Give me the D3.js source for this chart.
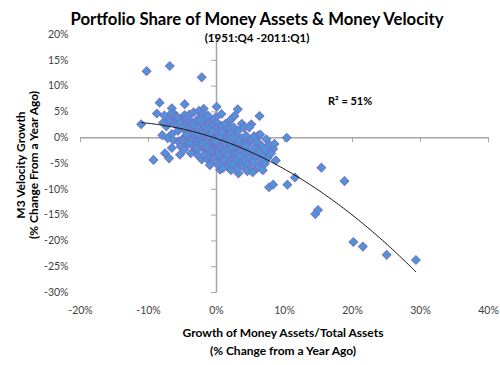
<!DOCTYPE html>
<html>
<head>
<meta charset="utf-8">
<script src="https://cdn.jsdelivr.net/npm/d3@7"></script>
<style>
body { margin: 0; background: #fff; }
text { font-family: Lato, "Open Sans", sans-serif; }
</style>
</head>
<body>
<div id="chart"></div>
<script>
// text + ticks
var chartTitle = "Portfolio Share of Money Assets & Money Velocity";
var chartSubtitle = "(1951:Q4 -2011:Q1)";
var xTitle = ["Growth of Money Assets/Total Assets", "(% Change from a Year Ago)"];
var yTitle = ["M3 Velocity Growth", "(% Change From a Year Ago)"];
var fitLabel = "R² = 51%";
var xTicks = [-20, -10, 0, 10, 20, 30, 40];
var yTicks = [20, 15, 10, 5, 0, -5, -10, -15, -20, -25, -30];

// [growth of money assets share, M3 velocity growth] in %
var tailPts = [
    [-10.2, 12.8], [-6.8, 13.8], [-2.1, 11.6], [-8.3, 6.7], [-11.0, 2.5],
    [-8.7, 4.6], [-6.5, 5.6], [-4.6, 6.4], [-1.8, 5.5], [0.1, 5.9],
    [3.2, 5.4], [6.4, 4.1], [5.2, 2.5], [0.8, 4.5], [0.0, 3.9],
    [-9.2, -4.4], [-7.5, -3.1], [-6.9, -4.1], [-5.3, -3.4], [-6.5, -2.1],
    [7.4, -0.4], [8.4, -2.3], [10.4, -0.1], [15.5, -5.9], [18.9, -8.5],
    [7.8, -9.7], [8.4, -9.2], [10.5, -9.2], [11.6, -7.8], [14.6, -14.9],
    [15.0, -14.1], [20.2, -20.3], [21.6, -21.2], [25.1, -22.8], [29.4, -23.8],
    [6.2, 0.3], [7.0, -4.4], [6.0, -6.0], [5.0, -6.3], [3.3, -7.0], [0.6, -6.3]
];

var clusterPts = [
    [-7.8, 2.8], [-7.6, 4.2], [-7.3, 2.1], [-7.1, -0.2], [-6.9, 3.4], [-6.7, 3.0],
    [-6.5, 0.6], [-6.3, -0.6], [-6.2, 4.6], [-6.1, 2.6], [-7.9, 0.4], [-6.6, 4.6],
    [-5.9, 4.0], [-5.8, 3.7], [-5.7, 2.3], [-5.6, 1.2], [-5.5, -0.8], [-5.4, -1.0],
    [-5.2, -1.8], [-5.1, 3.3], [-5.0, 3.0], [-4.9, 1.9], [-4.8, -0.2], [-4.7, -2.4],
    [-4.6, 4.3], [-4.5, 1.3], [-4.4, -0.4], [-4.3, 3.5], [-4.2, 2.6], [-4.1, -1.3],
    [-5.3, 2.8], [-4.9, -0.6],
    [-3.9, 4.4], [-3.8, 3.3], [-3.8, 1.0], [-3.7, 2.6], [-3.6, -0.4], [-3.5, 1.8],
    [-3.4, -1.6], [-3.3, 4.8], [-3.2, 0.4], [-3.1, -2.7], [-3.0, 3.0], [-2.9, 1.4],
    [-2.8, -0.9], [-2.7, 2.2], [-2.6, -3.6], [-2.5, 0.0], [-2.4, 3.8], [-2.3, -1.9],
    [-2.2, 1.1], [-2.1, -4.3], [-2.0, 2.7], [-3.7, -3.1], [-2.9, -2.2], [-3.3, 0.8],
    [-2.5, 5.1], [-2.2, -0.6], [-3.9, -1.1],
    [-1.9, 4.6], [-1.9, 0.6], [-1.8, 3.1], [-1.7, -1.3], [-1.6, 2.0], [-1.5, -2.6],
    [-1.4, 1.2], [-1.4, -4.1], [-1.3, 3.7], [-1.2, -0.3], [-1.1, -3.3], [-1.0, 2.5],
    [-0.9, -1.8], [-0.8, 0.9], [-0.7, -4.9], [-0.6, 1.7], [-0.5, -0.9], [-0.4, -2.9],
    [-0.3, 3.3], [-0.2, 0.2], [-0.1, -3.8], [-1.6, -0.5], [-0.9, -5.4], [-0.4, 2.4],
    [-1.2, 4.2], [-0.6, -1.6], [-1.8, -3.4], [-0.2, -2.2], [-1.0, 0.3],
    [0.1, 2.9], [0.2, -0.4], [0.3, 1.8], [0.4, -2.6], [0.5, 0.7], [0.6, -4.1],
    [0.7, -1.2], [0.8, 2.2], [0.9, -3.2], [1.0, -0.1], [1.1, -5.0], [1.2, 1.3],
    [1.3, -1.9], [1.4, -3.8], [1.5, 0.4], [1.6, -2.5], [1.7, -5.7], [1.8, -0.8],
    [1.9, 1.9], [0.3, -5.4], [0.5, -1.7], [1.1, -2.9], [1.6, -0.3], [0.8, -4.6],
    [1.9, -4.3], [0.2, 0.9], [1.4, 2.6], [1.0, -6.0],
    [2.1, 3.3], [2.2, -1.4], [2.3, 0.8], [2.4, -3.1], [2.5, -5.2], [2.6, 1.9],
    [2.7, -0.6], [2.8, -4.1], [2.9, -2.2], [3.0, 0.2], [3.1, -6.2], [3.2, -3.4],
    [3.3, 1.3], [3.4, -1.3], [3.5, -4.8], [3.6, -2.6], [3.7, -0.2], [3.8, 2.6],
    [3.9, -5.6], [2.4, -2.0], [3.0, -4.4], [2.2, -6.4], [3.6, -3.6], [2.7, 4.1],
    [4.1, 1.9], [4.2, -2.1], [4.3, -4.5], [4.4, 0.3], [4.5, -3.2], [4.6, -5.4],
    [4.8, -1.1], [4.9, 1.9], [5.0, -3.9], [5.2, -0.5], [5.3, -2.6], [5.5, -4.9],
    [5.6, 0.2], [5.8, -1.8], [5.9, -3.6], [4.6, -6.6], [5.4, -6.8], [4.0, -1.0],
    [6.1, -0.9], [6.3, -2.9], [6.5, 0.5], [6.6, -4.3], [6.8, -1.8], [7.0, -3.4],
    [7.2, -5.1], [7.3, -2.4], [7.6, -4.0], [6.2, -5.7], [7.8, -1.4], [6.9, -6.4],
    [8.1, -3.1], [8.6, -1.3], [8.8, -4.5],
    [-2.7, 0.5], [-1.5, -1.1], [-0.3, -0.5], [0.6, 0.1], [1.3, -1.2], [-2.0, -1.2],
    [-1.1, 1.6], [0.0, -1.3], [-0.8, -2.4], [0.4, -3.4], [2.0, -1.0], [-3.4, 2.3],
    [-4.3, 0.5], [1.7, -3.3], [2.5, -0.1], [-0.5, 1.1], [-1.3, -2.0], [0.9, 1.0],
    [-2.3, 3.3], [1.2, -4.4], [-5.7, 3.9], [4.4, -1.7], [3.3, -0.7], [-0.1, -0.9]
];

var allPts = tailPts.concat(clusterPts);

// 2nd order polynomial least squares, like the excel trendline
function polyFit2(pts) {
    var s = [0, 0, 0, 0, 0], t = [0, 0, 0];
    pts.forEach(function(p) {
        var xp = 1;
        for (var k = 0; k < 5; k++) {
            s[k] += xp;
            if (k < 3) t[k] += xp * p[1];
            xp *= p[0];
        }
    });
    var m = [[s[0], s[1], s[2], t[0]], [s[1], s[2], s[3], t[1]], [s[2], s[3], s[4], t[2]]];
    for (var i = 0; i < 3; i++) {
        for (var r = i + 1; r < 3; r++) {
            var f = m[r][i] / m[i][i];
            for (var c = i; c < 4; c++) m[r][c] -= f * m[i][c];
        }
    }
    var coef = [0, 0, 0];
    for (var i = 2; i >= 0; i--) {
        var v = m[i][3];
        for (var c = i + 1; c < 3; c++) v -= m[i][c] * coef[c];
        coef[i] = v / m[i][i];
    }
    return coef;
}

var width = 500, height = 365;
var svg = d3.select("#chart").append("svg")
    .attr("width", width)
    .attr("height", height);

var x = d3.scaleLinear().domain([-20, 40]).range([80, 488]);
var y = d3.scaleLinear().domain([-30, 20]).range([292, 34]);
var pct = function(d) { return d + "%"; };

// axis lines through the origin, labels pushed to the low side
svg.append("g")
    .attr("class", "axis-line")
    .attr("transform", "translate(" + x(0) + ",0)")
    .call(d3.axisLeft(y).tickValues(yTicks).tickSize(5).tickSizeOuter(0).tickFormat(""));

svg.append("g")
    .attr("class", "axis-line")
    .attr("transform", "translate(0," + y(0) + ")")
    .call(d3.axisBottom(x).tickValues(xTicks).tickSize(5).tickSizeOuter(0).tickFormat(""));

svg.selectAll(".axis-line path, .axis-line line")
    .attr("stroke", "#a6a6a6")
    .attr("stroke-width", 1);
svg.selectAll(".axis-line path").attr("stroke-width", 1.5);

var yLab = svg.append("g")
    .attr("transform", "translate(68.5,0)")
    .call(d3.axisLeft(y).tickValues(yTicks).tickSize(0).tickPadding(0).tickFormat(pct));
var xLab = svg.append("g")
    .attr("transform", "translate(0,307)")
    .call(d3.axisBottom(x).tickValues(xTicks).tickSize(0).tickPadding(0).tickFormat(pct));
[yLab, xLab].forEach(function(g) {
    g.select(".domain").remove();
    g.selectAll("text")
        .attr("fill", "#404040")
        .style("font-family", "Lato, sans-serif")
        .style("font-size", "10.5px");
});

// markers
var diamond = d3.symbol().type(d3.symbolSquare).size(38);
svg.append("g").selectAll("path")
    .data(allPts)
    .enter().append("path")
    .attr("d", diamond)
    .attr("transform", function(d) {
        return "translate(" + x(d[0]) + "," + y(d[1]) + ") rotate(45)";
    })
    .attr("fill", "#4f95d6")
    .attr("stroke", "#7373cc")
    .attr("stroke-width", 1);

// trendline over the data range
var coef = polyFit2(allPts);
var xr = d3.extent(allPts, function(d) { return d[0]; });
var curveX = d3.range(xr[0], xr[1], 0.25).concat([xr[1]]);
var line = d3.line()
    .x(function(d) { return x(d); })
    .y(function(d) { return y(coef[0] + coef[1] * d + coef[2] * d * d); });
svg.append("path")
    .datum(curveX)
    .attr("d", line)
    .attr("fill", "none")
    .attr("stroke", "#111")
    .attr("stroke-width", 1);

svg.append("text")
    .attr("x", 328).attr("y", 105)
    .style("font-size", "11px")
    .style("font-weight", "bold")
    .text(fitLabel);

// titles
svg.append("text")
    .attr("x", 257).attr("y", 25)
    .attr("text-anchor", "middle")
    .style("font-size", "16.7px")
    .style("font-weight", "bold")
    .text(chartTitle);
svg.append("text")
    .attr("x", 257).attr("y", 42)
    .attr("text-anchor", "middle")
    .style("font-size", "11.5px")
    .style("font-weight", "bold")
    .text(chartSubtitle);

svg.selectAll(".xtitle")
    .data(xTitle)
    .enter().append("text")
    .attr("x", 283)
    .attr("y", function(d, i) { return 337 + i * 18; })
    .attr("text-anchor", "middle")
    .style("font-size", "12px")
    .style("font-weight", "bold")
    .text(function(d) { return d; });

svg.selectAll(".ytitle")
    .data(yTitle)
    .enter().append("text")
    .attr("transform", function(d, i) { return "translate(" + (25 + i * 13) + ",165) rotate(-90)"; })
    .attr("text-anchor", "middle")
    .style("font-size", "12px")
    .style("font-weight", "bold")
    .text(function(d) { return d; });
</script>
</body>
</html>
